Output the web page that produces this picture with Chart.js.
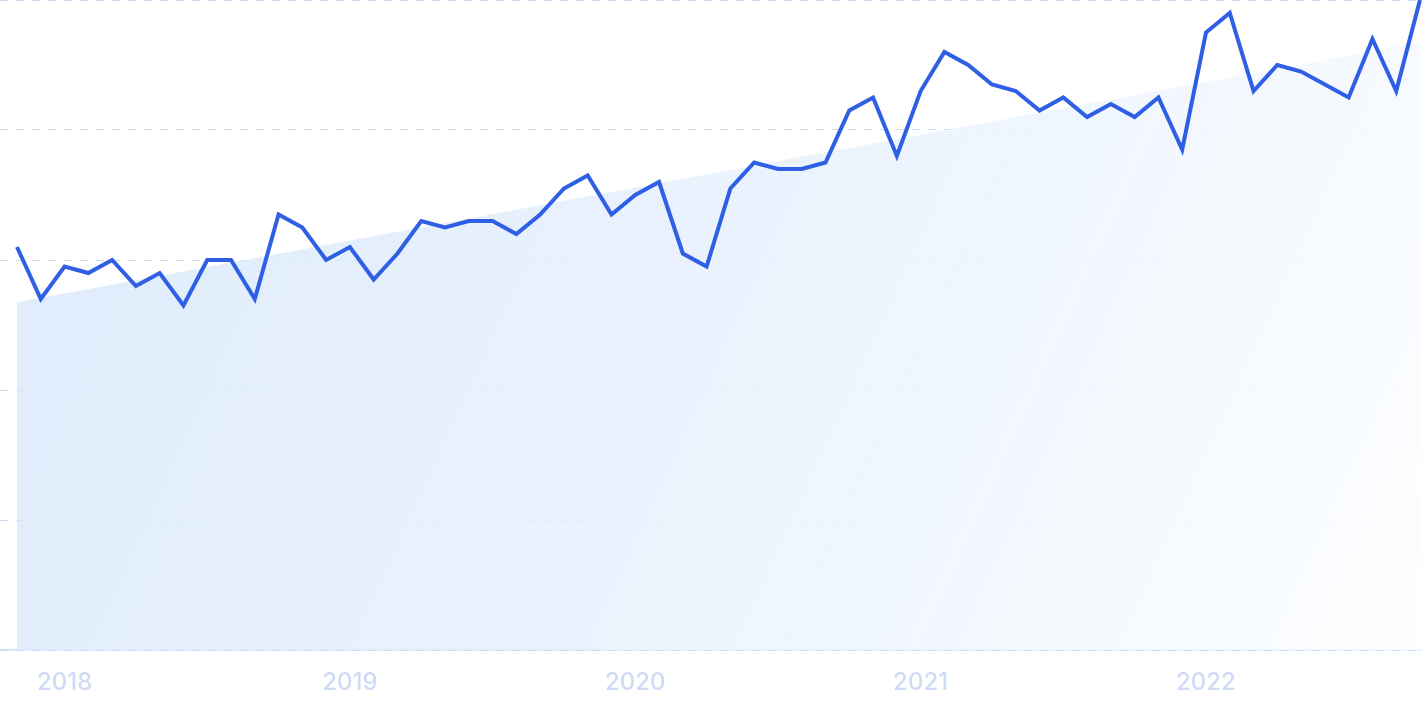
<!DOCTYPE html>
<html>
<head>
<meta charset="utf-8">
<style>
  html, body { margin: 0; padding: 0; background: #ffffff; }
  #wrap { width: 1425px; height: 712px; }
</style>
<script src="https://cdn.jsdelivr.net/npm/chart.js@4/dist/chart.umd.min.js"></script>
</head>
<body>
<div id="wrap"><canvas id="c" width="1425" height="712"></canvas></div>
<script>
// Months from Nov 2017 to Oct 2022
const months = [
  "2017-11","2017-12",
  "2018-01","2018-02","2018-03","2018-04","2018-05","2018-06","2018-07","2018-08","2018-09","2018-10","2018-11","2018-12",
  "2019-01","2019-02","2019-03","2019-04","2019-05","2019-06","2019-07","2019-08","2019-09","2019-10","2019-11","2019-12",
  "2020-01","2020-02","2020-03","2020-04","2020-05","2020-06","2020-07","2020-08","2020-09","2020-10","2020-11","2020-12",
  "2021-01","2021-02","2021-03","2021-04","2021-05","2021-06","2021-07","2021-08","2021-09","2021-10","2021-11","2021-12",
  "2022-01","2022-02","2022-03","2022-04","2022-05","2022-06","2022-07","2022-08","2022-09","2022-10"
];
const values = [
  62, 54,
  59, 58, 60, 56, 58, 53, 60, 60, 54, 67, 65, 60,
  62, 57, 61, 66, 65, 66, 66, 64, 67, 71, 73, 67,
  70, 72, 61, 59, 71, 75, 74, 74, 75, 83, 85, 76,
  86, 92, 90, 87, 86, 83, 85, 82, 84, 82, 85, 77,
  95, 98, 86, 90, 89, 87, 85, 94, 86, 100
];
// Trend band: start and end values
const trendStart = 53.5;
const trendEnd = 93.5;
const yearLabels = ["2018", "2019", "2020", "2021", "2022"];
const yearTickMonths = ["2018-01", "2019-01", "2020-01", "2021-01", "2022-01"];

const linePoints = values.map((v, i) => ({ x: i, y: v }));
const trendPoints = [
  { x: 0, y: trendStart },
  { x: months.length - 1, y: trendEnd }
];
const tickPositions = yearTickMonths.map(m => months.indexOf(m));

const ctx = document.getElementById('c').getContext('2d');

function areaGradient(context) {
  const chart = context.chart;
  const a = chart.chartArea;
  if (!a) return '#e4eefc';
  const g = chart.ctx.createLinearGradient(a.left, a.top, a.right, a.bottom);
  g.addColorStop(0, 'rgba(218,232,251,0.88)');
  g.addColorStop(0.5, 'rgba(231,241,253,0.88)');
  g.addColorStop(1, 'rgba(253,254,255,0.9)');
  return g;
}

new Chart(ctx, {
  type: 'line',
  data: {
    datasets: [
      {
        label: 'value',
        data: linePoints,
        borderColor: '#2f5fe4',
        borderWidth: 4,
        pointRadius: 0,
        fill: false,
        tension: 0,
        clip: 6,
        order: 0
      },
      {
        label: 'trend',
        data: trendPoints,
        borderWidth: 0,
        borderColor: 'rgba(0,0,0,0)',
        backgroundColor: areaGradient,
        pointRadius: 0,
        fill: 'origin',
        tension: 0,
        order: 1
      }
    ]
  },
  options: {
    responsive: false,
    animation: false,
    events: [],
    layout: { padding: { left: 0, right: 5, top: 0, bottom: 0 } },
    plugins: {
      legend: { display: false },
      tooltip: { enabled: false },
      title: { display: false }
    },
    scales: {
      x: {
        type: 'linear',
        min: -0.7149,
        max: 59,
        afterBuildTicks: (scale) => {
          scale.ticks = tickPositions.map(v => ({ value: v }));
        },
        afterFit: (scale) => { scale.height = 62; },
        ticks: {
          autoSkip: false,
          maxRotation: 0,
          padding: 18,
          color: '#cfdbf5',
          font: { family: 'Inter, "Noto Sans", sans-serif', size: 24, weight: '500' },
          callback: (value) => {
            const k = tickPositions.indexOf(value);
            return k >= 0 ? yearLabels[k] : '';
          }
        },
        grid: { display: false, drawTicks: false },
        border: { display: true, color: '#cbdefa', width: 1.5 }
      },
      y: {
        min: 0,
        max: 100,
        afterFit: (scale) => { scale.width = 0; },
        ticks: { display: false, stepSize: 20 },
        grid: {
          color: '#c8dbf9',
          lineWidth: 1,
          drawTicks: false
        },
        border: { display: false, dash: [8, 8] }
      }
    }
  }
});
</script>
</body>
</html>
